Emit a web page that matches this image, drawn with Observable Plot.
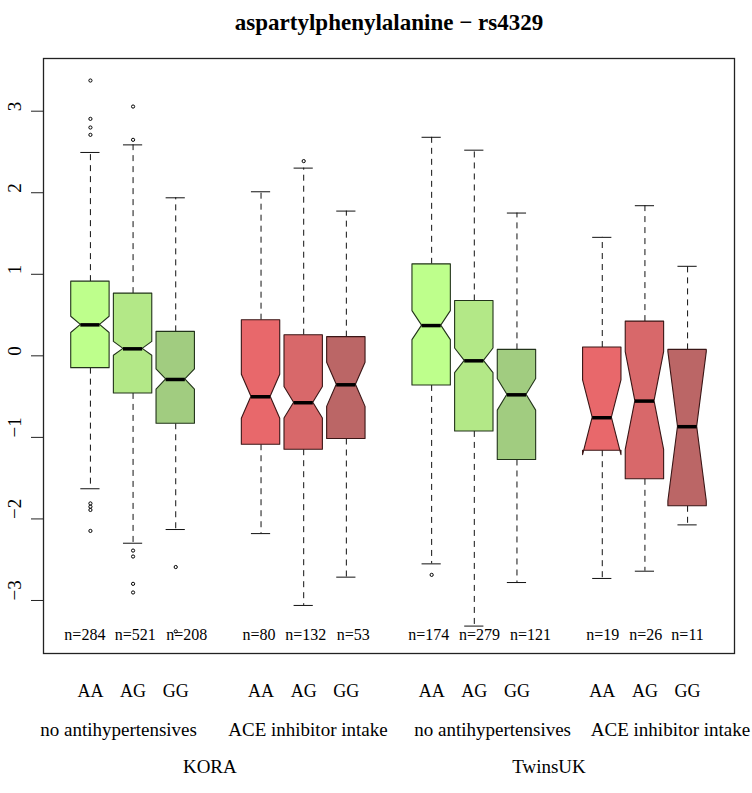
<!DOCTYPE html>
<html><head><meta charset="utf-8">
<script src="https://cdn.jsdelivr.net/npm/d3@7"></script>
<script src="https://cdn.jsdelivr.net/npm/@observablehq/plot@0.6"></script>
<style>body{margin:0;background:#fff}</style>
</head><body><div id="chart"></div>
<script>
const title = "aspartylphenylalanine − rs4329";
const positions = [1, 2, 3, 5, 6, 7, 9, 10, 11, 13, 14, 15];
const genotypes = ["AA", "AG", "GG", "AA", "AG", "GG", "AA", "AG", "GG", "AA", "AG", "GG"];
const counts = [284, 521, 208, 80, 132, 53, 174, 279, 121, 19, 26, 11];
const countLabelAt = [0.87, 2.05, 3.26, 4.95, 6.05, 7.16, 8.93, 10.12, 11.32, 13.01, 14.02, 15.0];
const lowerWhisker = [-1.63, -2.298, -2.13, -2.18, -3.061, -2.714, -2.551, -3.314, -2.78, -2.73, -2.641, -2.073];
const lowerHinge = [-0.151, -0.461, -0.833, -1.09, -1.151, -1.02, -0.363, -0.927, -1.277, -1.163, -1.514, -1.845];
const medians = [0.38, 0.086, -0.29, -0.502, -0.575, -0.355, 0.371, -0.061, -0.478, -0.759, -0.555, -0.869];
const upperHinge = [0.91, 0.763, 0.294, 0.437, 0.253, 0.229, 1.122, 0.673, 0.073, 0.102, 0.42, 0.073];
const upperWhisker = [2.494, 2.587, 1.938, 2.012, 2.302, 1.775, 2.68, 2.522, 1.751, 1.453, 1.841, 1.098];
const outliers = [
  [3.376, 2.906, 2.80, 2.71, -1.81, -1.85, -1.89, -2.147],
  [3.057, 2.649, -2.388, -2.461, -2.796, -2.902],
  [-2.59, -3.38],
  [],
  [2.388],
  [],
  [-2.686],
  [], [], [], [], []
];
const fillColors = ["#BEFF8C", "#B3E887", "#A1CC80", "#E8686B", "#D8686A", "#BB6666",
                    "#BEFF8C", "#B3E887", "#A1CC80", "#E8686B", "#D8686A", "#BB6666"];
const edgeColors = ["#22331a", "#22331a", "#22331a", "#3a1616", "#3a1616", "#3a1616",
                    "#22331a", "#22331a", "#22331a", "#3a1616", "#3a1616", "#3a1616"];
const groupLabels = ["no antihypertensives", "ACE inhibitor intake", "no antihypertensives", "ACE inhibitor intake"];
const groupAt = [1.66, 6.1, 10.43, 14.6];
const studyLabels = ["KORA", "TwinsUK"];
const studyAt = [3.8, 11.75];
const yTicks = [-3, -2, -1, 0, 1, 2, 3];

const boxHalf = 0.45;
const boxes = positions.map((pos, i) => {
  const nh = 1.58 * (upperHinge[i] - lowerHinge[i]) / Math.sqrt(counts[i]);
  return {
    i, pos, g: genotypes[i], n: counts[i], nAt: countLabelAt[i],
    lw: lowerWhisker[i], q1: lowerHinge[i], med: medians[i], q3: upperHinge[i], uw: upperWhisker[i],
    nlo: medians[i] - nh, nhi: medians[i] + nh,
    fill: fillColors[i], edge: edgeColors[i]
  };
});
const outline = boxes.flatMap(b => [
  {i: b.i, pos: b.pos, y: b.q1, h: boxHalf, fill: b.fill, edge: b.edge},
  {i: b.i, pos: b.pos, y: b.nlo, h: boxHalf, fill: b.fill, edge: b.edge},
  {i: b.i, pos: b.pos, y: b.med, h: boxHalf / 2, fill: b.fill, edge: b.edge},
  {i: b.i, pos: b.pos, y: b.nhi, h: boxHalf, fill: b.fill, edge: b.edge},
  {i: b.i, pos: b.pos, y: b.q3, h: boxHalf, fill: b.fill, edge: b.edge}
]);
const outRows = boxes.flatMap(b => outliers[b.i].map(v => ({pos: b.pos, v})));

const allVals = [...lowerWhisker, ...upperWhisker, ...outliers.flat()];
const [ymin, ymax] = d3.extent(allVals);
const ypad = (ymax - ymin) * 0.04;
const xmin = d3.min(positions) - 0.5, xmax = d3.max(positions) + 0.5;
const xpad = (xmax - xmin) * 0.04;

const fmt = d => d < 0 ? "\u2212" + Math.abs(d) : String(d);

const chart = Plot.plot({
  width: 752, height: 793,
  marginLeft: 43, marginRight: 18, marginTop: 58, marginBottom: 140,
  style: {fontFamily: "'Liberation Serif', 'Times New Roman', serif", fontSize: "16px", background: "white", color: "black"},
  x: {domain: [xmin - xpad, xmax + xpad], axis: null},
  y: {domain: [ymin - ypad, ymax + ypad], axis: null},
  color: {type: "identity"},
  marks: [
    Plot.ruleX(boxes, {x: "pos", y1: "q3", y2: "uw", stroke: "#111", strokeDasharray: "6,5"}),
    Plot.ruleX(boxes, {x: "pos", y1: "q1", y2: "lw", stroke: "#111", strokeDasharray: "6,5"}),
    Plot.ruleY(boxes, {y: "uw", x1: d => d.pos - boxHalf / 2, x2: d => d.pos + boxHalf / 2, stroke: "#111"}),
    Plot.ruleY(boxes, {y: "lw", x1: d => d.pos - boxHalf / 2, x2: d => d.pos + boxHalf / 2, stroke: "#111"}),
    Plot.areaX(outline, {y: "y", x1: d => d.pos - d.h, x2: d => d.pos + d.h, z: "i", fill: "fill", stroke: "edge", strokeWidth: 1.1, fillOpacity: 1}),
    Plot.ruleY(boxes, {y: "med", x1: d => d.pos - boxHalf / 2, x2: d => d.pos + boxHalf / 2, stroke: "#000", strokeWidth: 3.5}),
    Plot.dot(outRows, {x: "pos", y: "v", r: 1.6, stroke: "#000", strokeWidth: 1, fill: "none"}),
    Plot.text(boxes, {x: "nAt", text: d => "n=" + d.n, frameAnchor: "bottom", dy: -14, fontSize: 16}),
    Plot.frame({stroke: "#222", strokeWidth: 1.3}),
    Plot.axisY({ticks: yTicks, tickSize: 12, tickFormat: () => "", label: null, stroke: "#222"}),
    Plot.text(yTicks, {y: d => d, text: fmt, frameAnchor: "left", dx: -29, rotate: -90, fontSize: 19}),
    Plot.text(boxes, {x: "pos", text: "g", frameAnchor: "bottom", dy: 43, fontSize: 18}),
    Plot.text(groupLabels, {x: (d, i) => groupAt[i], text: d => d, frameAnchor: "bottom", dy: 82, fontSize: 19}),
    Plot.text(studyLabels, {x: (d, i) => studyAt[i], text: d => d, frameAnchor: "bottom", dy: 119, fontSize: 19}),
    Plot.text([title], {frameAnchor: "top", dy: -45, text: d => d, fontWeight: "bold", fontSize: 23})
  ]
});
document.getElementById("chart").appendChild(chart);
</script>
</body></html>
